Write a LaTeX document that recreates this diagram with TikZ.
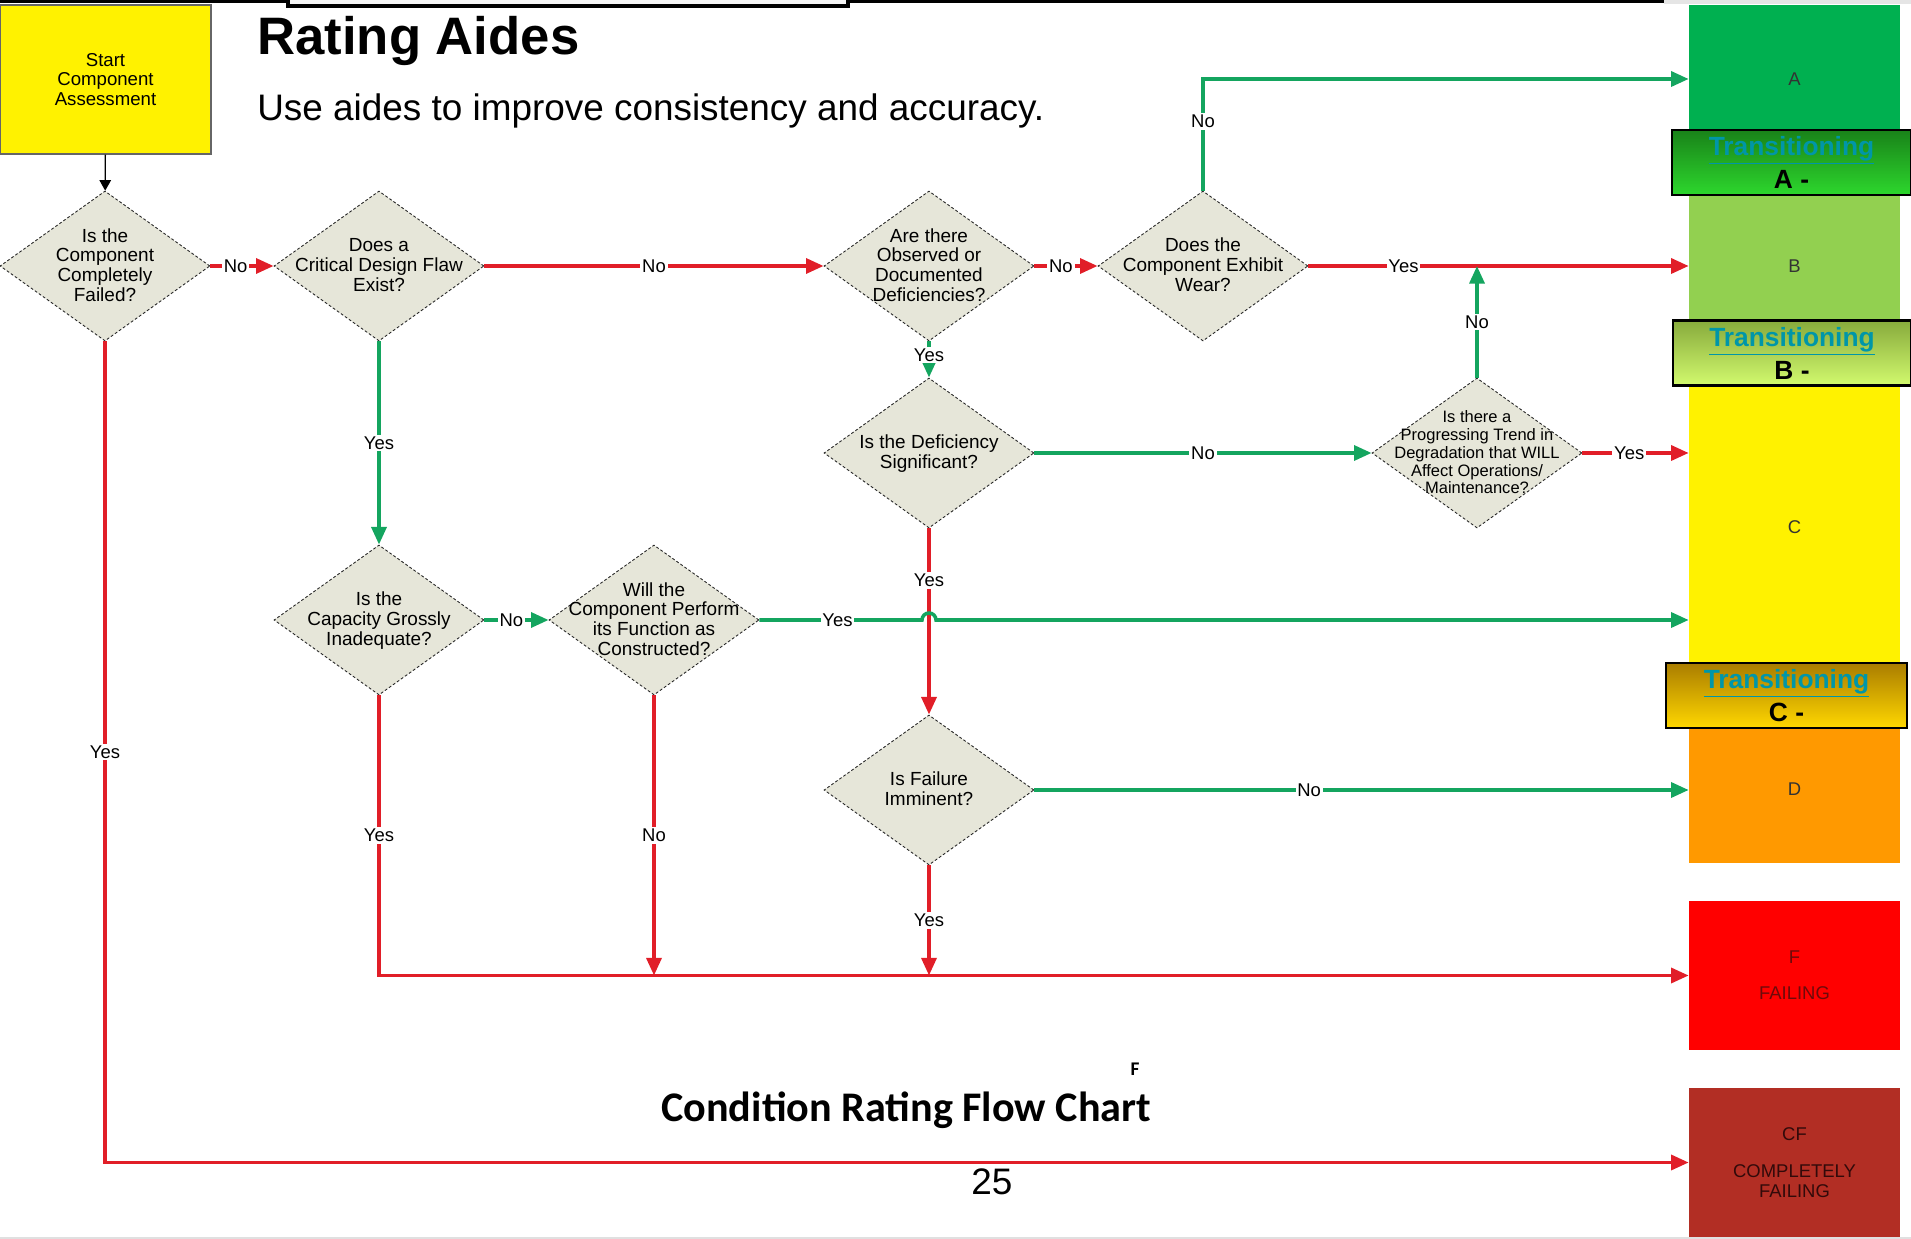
\documentclass[tikz,border=0pt]{standalone}
\usepackage{fontspec}
\setmainfont{Liberation Sans}
\newfontfamily\captionfont{Carlito}
\usetikzlibrary{calc}
\usetikzlibrary{positioning}
\usetikzlibrary{shapes.geometric}
\usetikzlibrary{arrows.meta}

\definecolor{flowred}{RGB}{225,30,40}
\definecolor{flowgreen}{RGB}{20,165,95}
\definecolor{qfill}{RGB}{230,230,217}
\definecolor{gradeA}{RGB}{0,176,80}
\definecolor{gradeB}{RGB}{146,208,80}
\definecolor{gradeD}{RGB}{255,153,0}
\definecolor{gradeF}{RGB}{255,0,0}
\definecolor{gradeCF}{RGB}{178,46,36}
\definecolor{transtext}{RGB}{0,150,168}
\definecolor{transAtop}{RGB}{25,130,25}
\definecolor{transAbot}{RGB}{45,215,45}
\definecolor{transBtop}{RGB}{135,170,60}
\definecolor{transBbot}{RGB}{210,250,110}
\definecolor{transCtop}{RGB}{170,125,0}
\definecolor{transCbot}{RGB}{255,215,0}

% 菱形里的文字（不改变菱形大小）
\newcommand{\qtext}[1]{\smash{\raisebox{-0.35em}{\makebox[0pt]{\begin{tabular}{@{}c@{}}#1\end{tabular}}}}}

\tikzset{
    question/.style={
        diamond,                 % 菱形判断框
        draw=black!85,
        dash pattern=on 1.6pt off 1.2pt,
        line width=0.5pt,
        fill=qfill,
        minimum width=4.2cm,
        minimum height=3cm,
        inner sep=0pt,
        font=\fontsize{10.8}{11.3}\selectfont
    },
    startbox/.style={
        rectangle, draw=black!60, line width=0.6pt, fill=yellow,
        minimum width=4.22cm, minimum height=2.98cm, align=center,
        font=\fontsize{10.6}{11.2}\selectfont
    },
    grade/.style={
        rectangle, minimum width=4.22cm, inner sep=0pt, align=center,
        font=\fontsize{10.5}{11}\selectfont
    },
    transbox/.style={
        rectangle, draw=black, line width=1.3pt, minimum height=1.3cm,
        inner sep=0pt, align=center,
        font=\bfseries\fontsize{15}{18.8}\selectfont
    },
    answer/.style={fill=white, inner sep=1pt, font=\fontsize{10.5}{12}\selectfont},
    redline/.style={draw=flowred, line width=2pt},
    greenline/.style={draw=flowgreen, line width=2pt},
    flowarrow/.style={-{Triangle[length=10pt, width=8.5pt]}}
}

\begin{document}
\begin{tikzpicture}[x=0.02cm, y=-0.02cm]
\useasboundingbox (0,0) rectangle (1911,1239);

\def\colx{1794.5}

% 顶部的线
\fill[black] (0,0) rectangle (1664,3);
\fill[black!10] (1664,0) rectangle (1911,4);
\draw[black, line width=2pt, fill=black!4] (288,-10) rectangle (848,6);
\fill[black!12] (0,1237) rectangle (1911,1239);

% 标题
\node[anchor=base west, inner sep=0pt, font=\bfseries\fontsize{30}{36}\selectfont] (title) at (257,55) {Rating Aides};
\node[anchor=base west, inner sep=0pt, font=\fontsize{21}{25}\selectfont] (subtitle) at (257,121) {Use aides to improve consistency and accuracy.};

% 开始
\node[startbox] (start) at (105.5,79.5) {Start\\Component\\Assessment};

% 判断框
\node[question] (d1) at (105,266) {\qtext{Is the\\Component\\Completely\\Failed?}};
\node[question] (d2) at (379,266) {\qtext{Does a\\Critical Design Flaw\\Exist?}};
\node[question] (d3) at (929,266) {\qtext{Are there\\Observed or\\Documented\\Deficiencies?}};
\node[question] (d4) at (1203,266) {\qtext{Does the\\Component Exhibit\\Wear?}};
\node[question] (d5) at (929,453) {\qtext{Is the Deficiency\\Significant?}};
\node[question, font=\fontsize{9.4}{10.1}\selectfont] (d6) at (1477,453) {\qtext{Is there a\\Progressing Trend in\\Degradation that WILL\\Affect Operations/\\Maintenance?}};
\node[question] (d7) at (379,620) {\qtext{Is the\\Capacity Grossly\\Inadequate?}};
\node[question] (d8) at (654,620) {\qtext{Will the\\Component Perform\\its Function as\\Constructed?}};
\node[question] (d9) at (929,790) {\qtext{Is Failure\\Imminent?}};

% 右侧等级
\node[grade, fill=gradeA, minimum height=2.96cm, text=black!80] (gA) at (\colx,79) {A};
\node[grade, fill=gradeB, minimum height=4.52cm, text=black!80] (gB) at (\colx,266) {B};
\node[grade, fill=yellow, minimum height=5.92cm, text=black!80] (gC) at (\colx,527) {C};
\node[grade, fill=gradeD, minimum height=2.96cm, text=black!80] (gD) at (\colx,789) {D};
\node[grade, fill=gradeF, minimum height=2.98cm, text={rgb,255:red,110;green,10;blue,10}] (gF) at (\colx,975.5) {F\\[3.4mm]FAILING};
\node[grade, fill=gradeCF, minimum height=2.98cm, text={rgb,255:red,50;green,10;blue,10}] (gCF) at (\colx,1162.5) {CF\\[3.6mm]COMPLETELY\\FAILING};

\node[transbox, top color=transAtop, bottom color=transAbot, minimum width=4.78cm] (tA) at (1791.5,162.5) {\textcolor{transtext}{\underline{Transitioning}}\\A -};
\node[transbox, top color=transBtop, bottom color=transBbot, minimum width=4.76cm] (tB) at (1792,353) {\textcolor{transtext}{\underline{Transitioning}}\\B -};
\node[transbox, top color=transCtop, bottom color=transCbot, minimum width=4.82cm] (tC) at (1786.5,695.5) {\textcolor{transtext}{\underline{Transitioning}}\\C -};

% 连线
\draw[black, line width=0.8pt, -{Triangle[length=6pt, width=6.5pt]}] (start) -- (d1);
\draw[redline, flowarrow] (d1) -- node[answer, pos=0.4] (l1) {No} (d2);
\draw[redline, flowarrow] (d2) -- node[answer] (l2) {No} (d3);
\draw[redline, flowarrow] (d3) -- node[answer, pos=0.42] (l3) {No} (d4);
\draw[redline, flowarrow] (d4) -- node[answer, pos=0.25] (l4) {Yes} (gB);
\draw[greenline, flowarrow] (d4.north) |- node[answer, pos=0.31] (l5) {No} (gA.west);
\draw[greenline, flowarrow] (d3) -- node[answer, pos=0.38] (l6) {Yes} (d5);
\draw[greenline, flowarrow] (d5) -- node[answer] (l7) {No} (d6);
\draw[redline, flowarrow] (d6.east) -- node[answer, pos=0.44] (l8) {Yes} (d6.east -| gC.west);
\draw[greenline, flowarrow] (d6.north) -- node[answer] (l9) {No} (d6.north |- d4.east);
\draw[redline, flowarrow] (d5) -- node[answer, pos=0.28] (l10) {Yes} (d9);
\draw[greenline, flowarrow] (d2) -- node[answer] (l11) {Yes} (d7);
\draw[greenline, flowarrow] (d7) -- node[answer, pos=0.42] (l12) {No} (d8);
\draw[greenline, flowarrow] (d8.east) -- node[answer, pos=0.48] (l13) {Yes} ($(d5.south |- d8.east)+(-7,0)$)
    arc[start angle=180, end angle=0, radius=0.14cm] -- (d8.east -| gC.west);
\draw[greenline, flowarrow] (d9.east) -- node[answer, pos=0.42] (l14) {No} (d9.east -| gD.west);
\draw[redline, flowarrow] (d9.south) -- node[answer] (l15) {Yes} (d9.south |- gF.west);
\draw[redline, flowarrow] (d7.south) |- node[answer, pos=0.25] (l16) {Yes} (gF.west);
\draw[redline, flowarrow] (d8.south) -- node[answer] (l17) {No} (d8.south |- gF.west);
\draw[redline, flowarrow] (d1.south) |- node[answer, pos=0.25] (l18) {Yes} (gCF.west);

% 下方文字
\node[anchor=base west, inner sep=0pt, font=\captionfont\bfseries\fontsize{24}{29}\selectfont] (caption) at (661,1121) {Condition Rating Flow Chart};
\node[font=\captionfont\bfseries\fontsize{11}{13}\selectfont] (fmark) at (1135,1069) {F};
\node[anchor=base west, inner sep=0pt, font=\fontsize{21}{25}\selectfont] (pagenum) at (971,1194) {25};

\end{tikzpicture}
\end{document}
